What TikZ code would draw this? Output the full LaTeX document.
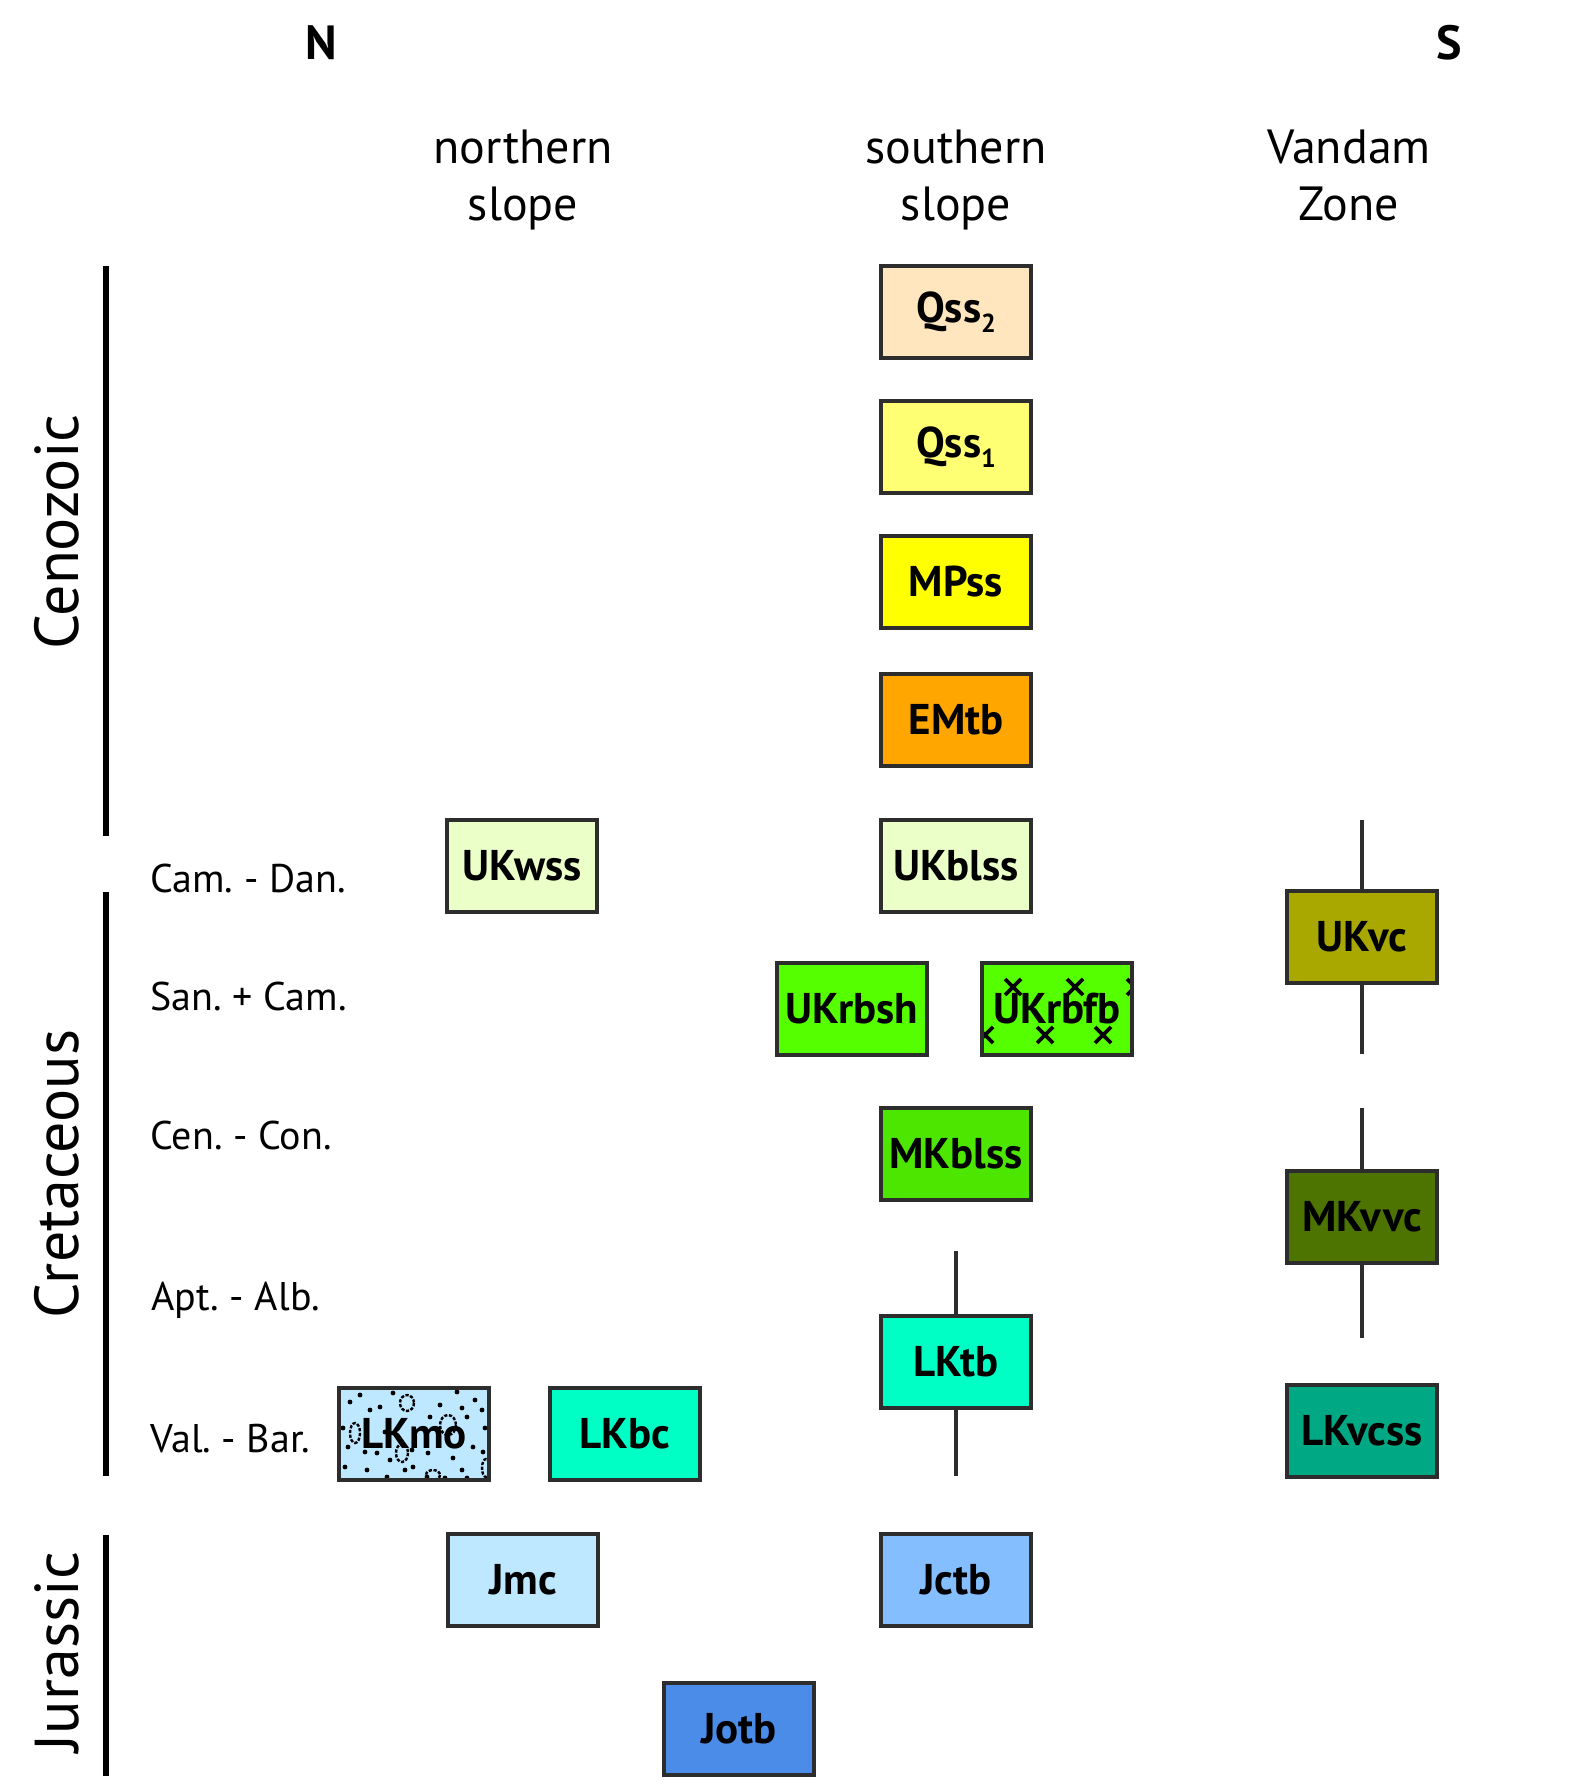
\documentclass[tikz,border=0pt]{standalone}
\usepackage{fontspec}
\setmainfont{PT Sans}
\frenchspacing
\definecolor{cQsstwo}{RGB}{255,230,190}
\definecolor{cQssone}{RGB}{255,255,115}
\definecolor{cMPss}{RGB}{255,255,0}
\definecolor{cEMtb}{RGB}{255,166,0}
\definecolor{cUKbl}{RGB}{235,255,200}
\definecolor{cUKrb}{RGB}{85,255,0}
\definecolor{cMKbl}{RGB}{76,230,0}
\definecolor{cLKtb}{RGB}{0,255,197}
\definecolor{cLKmo}{RGB}{190,232,255}
\definecolor{cJmc}{RGB}{190,232,255}
\definecolor{cJctb}{RGB}{133,190,255}
\definecolor{cJotb}{RGB}{74,140,232}
\definecolor{cUKvc}{RGB}{168,168,0}
\definecolor{cMKvvc}{RGB}{77,115,0}
\definecolor{cLKvcss}{RGB}{0,168,132}
\definecolor{edge}{RGB}{45,45,45}
\newcommand{\lowsub}[1]{\raisebox{-0.45ex}{\fontsize{13}{14}\selectfont #1}}
\begin{document}
\begin{tikzpicture}[x=0.5pt,y=-0.5pt,
  unit/.style={draw=edge,line width=1.7pt,minimum width=75pt,minimum height=46pt,inner sep=0pt,
    font=\fontsize{21.5}{25}\selectfont\bfseries},
  link/.style={draw=edge,line width=1.9pt},
  era/.style={line width=2.6pt,black},
  eralabel/.style={rotate=90,font=\fontsize{31}{36}\selectfont},
  period/.style={anchor=west,font=\fontsize{20}{24}\selectfont,inner sep=0pt},
  header/.style={align=center,font=\fontsize{24}{28.5}\selectfont},
  dir/.style={font=\fontsize{24}{28}\selectfont\bfseries},
  xmark/.style={line width=1.9pt,black},
  speck/.style={black},
  clast/.style={black,line width=1.2pt,dash pattern=on 1.6pt off 0.8pt}]
\useasboundingbox (0,0) rectangle (1588,1792);

% direction and headers
\node[dir] (N) at (321,43) {N};
\node[dir] (S) at (1449,43) {S};
\node[header] (hn) at (523,181) {northern\strut\\slope\strut};
\node[header] (hs) at (956,181) {southern\strut\\slope\strut};
\node[header] (hv) at (1349,181) {Vandam\strut\\Zone\strut};

% era bars
\draw[era] (106,266) -- (106,836);
\draw[era] (106,892) -- (106,1476);
\draw[era] (106,1535) -- (106,1776);
\node[eralabel] (ceno) at (57,532) {Cenozoic};
\node[eralabel] (creta) at (57,1174) {Cretaceous};
\node[eralabel] (jura) at (57,1652) {Jurassic};

% period labels
\node[period] (p1) at (150,878) {Cam. - Dan.};
\node[period] (p2) at (150,996) {San. + Cam.};
\node[period] (p3) at (150,1135) {Cen. - Con.};
\node[period] (p4) at (151,1300) {Apt. - Alb.};
\node[period] (p5) at (150,1439) {Val. - Bar.};

% patterned backgrounds
\fill[cUKrb] (982,963) rectangle (1132,1055);
\begin{scope}
  \clip (982,963) rectangle (1132,1055);
  \foreach \px/\py in {1013/987,1075/987,1135/987,985/1035,1045/1035,1103/1035}{
    \draw[xmark] (\px-8,\py-8) -- (\px+8,\py+8) (\px-8,\py+8) -- (\px+8,\py-8);
  }
\end{scope}
\fill[cLKmo] (339,1388) rectangle (489,1480);
\begin{scope}
  \clip (339,1388) rectangle (489,1480);
  \foreach \px/\py in {360/1395,380/1407,393/1393,457/1392,475/1400,440/1405,462/1408,350/1402,370/1410,482/1410,430/1417,467/1417,343/1428,485/1428,385/1432,348/1447,365/1452,412/1450,428/1453,377/1453,473/1447,483/1452,390/1460,453/1458,345/1467,367/1470,405/1470,387/1477,427/1477,445/1478,462/1470,467/1478,413/1467}{
    \fill[speck] (\px,\py) circle (1.2pt);
  }
  \foreach \px/\py/\rx/\ry in {407/1403/7/8,355/1433/5/10,448/1425/8/10,402/1453/6/9,433/1475/7/5,486/1468/4/9}{
    \draw[clast] (\px,\py) ellipse [x radius=\rx,y radius=\ry];
  }
\end{scope}

% southern slope
\node[unit,fill=cQsstwo] (Qss2) at (956,312) {Qss\lowsub{2}};
\node[unit,fill=cQssone] (Qss1) at (956,447) {Qss\lowsub{1}};
\node[unit,fill=cMPss] (MPss) at (956,582) {MPss};
\node[unit,fill=cEMtb] (EMtb) at (956,720) {EMtb};
\node[unit,fill=cUKbl] (UKblss) at (956,866) {UKblss};
\node[unit,fill=cUKrb] (UKrbsh) at (852,1009) {UKrbsh};
\node[unit] (UKrbfb) at (1057,1009) {UKrbfb};
\node[unit,fill=cMKbl] (MKblss) at (956,1154) {MKblss};
\node[unit,fill=cLKtb] (LKtb) at (956,1362) {LKtb};
\node[unit,fill=cJctb] (Jctb) at (956,1580) {Jctb};

% northern slope
\node[unit,fill=cUKbl] (UKwss) at (522,866) {UKwss};
\node[unit] (LKmo) at (414,1434) {LKmo};
\node[unit,fill=cLKtb] (LKbc) at (625,1434) {LKbc};
\node[unit,fill=cJmc] (Jmc) at (523,1580) {Jmc};
\node[unit,fill=cJotb] (Jotb) at (739,1729) {Jotb};

% Vandam zone
\node[unit,fill=cUKvc] (UKvc) at (1362,937) {UKvc};
\node[unit,fill=cMKvvc] (MKvvc) at (1362,1217) {MKvvc};
\node[unit,fill=cLKvcss] (LKvcss) at (1362,1431) {LKvcss};

% range lines
\coordinate (lktbtop) at (956,1251);
\coordinate (lktbbot) at (956,1476);
\coordinate (ukvctop) at (1362,820);
\coordinate (ukvcbot) at (1362,1054);
\coordinate (mkvvctop) at (1362,1108);
\coordinate (mkvvcbot) at (1362,1338);
\draw[link] (LKtb.north) -- (lktbtop);
\draw[link] (LKtb.south) -- (lktbbot);
\draw[link] (UKvc.north) -- (ukvctop);
\draw[link] (UKvc.south) -- (ukvcbot);
\draw[link] (MKvvc.north) -- (mkvvctop);
\draw[link] (MKvvc.south) -- (mkvvcbot);
\end{tikzpicture}
\end{document}
